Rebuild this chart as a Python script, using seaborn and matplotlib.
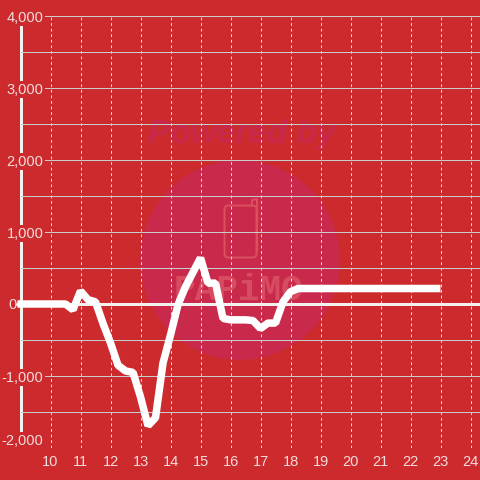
"""Recreate the red single-line hourly chart with the faint watermark."""
import matplotlib
matplotlib.use("Agg")
import matplotlib.pyplot as plt
from matplotlib.patches import Circle, FancyBboxPatch
from matplotlib.ticker import FuncFormatter, MultipleLocator
from matplotlib.transforms import Affine2D
import seaborn as sns

# the series runs on from before the visible range, so it reaches the axis line
HOURS = [8.9, 9.5, 10, 10.25, 10.5, 10.75, 11, 11.25, 11.5, 11.75, 12, 12.25, 12.5, 12.75,
         13, 13.25, 13.5, 13.75, 14, 14.25, 14.5, 14.75, 15, 15.25, 15.5, 15.75,
         16, 16.25, 16.5, 16.75, 17, 17.25, 17.5, 17.75, 18, 18.25, 18.5, 18.75,
         19, 19.25, 19.5, 19.75, 20, 20.25, 20.5, 20.75, 21, 21.25, 21.5, 21.75,
         22, 22.25, 22.5, 22.75, 23]
VALUES = [0, 0, 0, 0, 0, -80, 180, 60, 30, -270, -540, -850, -930, -950,
          -1290, -1690, -1580, -820, -430, -10, 240, 440, 640, 290, 290, -200,
          -220, -220, -220, -230, -340, -265, -265, 30, 170, 215, 215, 215,
          215, 215, 215, 215, 215, 215, 215, 215, 215, 215, 215, 215,
          215, 215, 215, 215, 215]
X_TICKS = list(range(10, 25))

BG = "#cd2a2e"
WHITE = "#f3f0f0"
LABEL = "#f2dcdc"
PX = 0.72  # one pixel in points at dpi 100

sns.set_theme(style="white")
plt.rcParams["font.family"] = ["Liberation Sans", "DejaVu Sans"]

fig = plt.figure(figsize=(4.8, 4.8), dpi=100, facecolor=BG)
ax = fig.add_axes([20.5 / 480, 32 / 480, 459.5 / 480, 432 / 480], facecolor=BG)

# watermark, placed in image pixels
to_px = Affine2D().scale(1 / 480, -1 / 480).translate(0, 1) + fig.transFigure
ax.add_patch(Circle((240, 260), 100, transform=to_px, color="#c9294a", lw=0, zorder=0.1))
ax.text(242, 135, "Powered by", transform=to_px, color="#c8294a", fontsize=24, style="italic",
        weight="bold", ha="center", va="center", zorder=0.1)
ax.add_patch(FancyBboxPatch((227, 208), 27, 47, boxstyle="round,pad=2.5,rounding_size=4",
                            transform=to_px, fc="none", ec="#d9505f", lw=2 * PX, zorder=0.2))
ax.plot([252, 252, 257, 257], [206, 200, 199, 250], transform=to_px, color="#d9505f",
        lw=2 * PX, zorder=0.2)
ax.text(239, 290, "PAPiMO", transform=to_px, color="#d64c60", family="Liberation Mono",
        weight="bold", fontsize=26, ha="center", va="center", zorder=0.2)

sns.lineplot(x=HOURS, y=VALUES, ax=ax, color="white", linewidth=7.5 * PX,
             solid_joinstyle="bevel", solid_capstyle="butt", zorder=4, clip_on=False)

ax.set_xlim(9, 9 + 459.5 / 30)
ax.set_ylim(-2000, 4000)
ax.set_xticks(X_TICKS)
ax.yaxis.set_major_locator(MultipleLocator(1000))
ax.yaxis.set_minor_locator(MultipleLocator(500))
# the zero label sits left of the axis line, so it is written separately below
ax.yaxis.set_major_formatter(FuncFormatter(lambda v, _: f"{v:,.0f}" if v != 0 else ""))
ax.set_axisbelow(True)

ax.grid(True, axis="y", which="both", color="#c5cfcf", lw=PX)
ax.grid(True, axis="x", which="major", color="#dde0e0", lw=PX, ls=(0, (2.78, 2.78)))
ax.tick_params(axis="both", which="both", length=0, labelsize=10.5, labelcolor=LABEL)
ax.tick_params(axis="x", pad=5)
ax.tick_params(axis="y", pad=-16.6)

# value labels sit inside the plot and mask the axis line behind them
for label in ax.get_yticklabels():
    if label.get_text():
        label.set_bbox(dict(facecolor=BG, edgecolor="none", pad=1.2))
    if label.get_text() == "-2,000":
        label.set_va("bottom")
ax.text(16.5, 305, "0", transform=to_px, color=LABEL, fontsize=10.5, ha="right", va="center",
        clip_on=False)

for name in ["top", "right", "bottom"]:
    ax.spines[name].set_visible(False)
ax.spines["left"].set_color(WHITE)
ax.spines["left"].set_linewidth(3 * PX)
ax.spines["left"].set_zorder(0.4)
ax.spines["left"].set_bounds(-1820, 4000)

# zero line runs slightly past the axis line
ax.plot([-0.008, 1], [0, 0], transform=ax.get_yaxis_transform(), color=WHITE, lw=3 * PX,
        clip_on=False, zorder=3)

fig.savefig("out.png", dpi=100, facecolor=BG)
